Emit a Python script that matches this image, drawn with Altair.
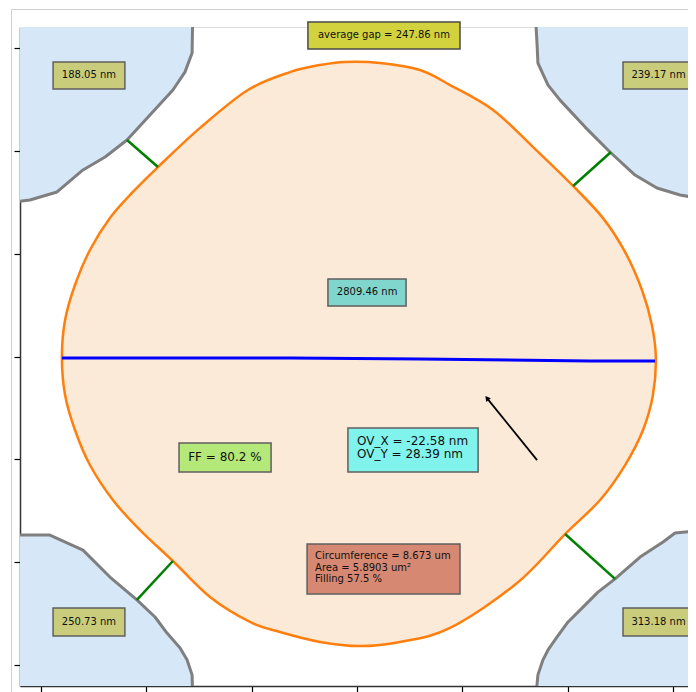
import altair as alt
import pandas as pd

# ---------------- data (nm) ----------------
TICKS = [-1500, -1000, -500, 0, 500, 1000, 1500]

# central hole outline
shape_x = [-57, 109, 299, 442, 646, 836, 1026, 1168, 1273, 1353, 1400, 1419, 1405, 1358, 1273, 1154, 988, 760, 442, 204,
           14, -176, -366, -508, -698, -874, -1030, -1159, -1268, -1339, -1386, -1401, -1386, -1339, -1268, -1173, -1064, -945, -745, -518,
           -318, -176]
shape_y = [1430, 1425, 1391, 1318, 1197, 1017, 828, 672, 507, 323, 153, -7, -187, -357, -527, -697, -862, -1100, -1318, -1386,
           -1406, -1386, -1338, -1289, -1168, -993, -843, -697, -527, -357, -187, -2, 177, 347, 517, 673, 799, 920, 1110, 1294,
           1381, 1415]

# neighbouring holes (corners)
ul_x = [-779, -783, -817, -874, -983, -1092, -1196, -1301, -1424, -1553, -1700, -1700]
ul_y = [1700, 1474, 1381, 1294, 1173, 1051, 969, 906, 799, 760, 740, 1700]
ur_x = [845, 855, 859, 907, 964, 1083, 1201, 1320, 1424, 1534, 1700, 1700]
ur_y = [1700, 1513, 1425, 1318, 1245, 1114, 993, 881, 818, 784, 755, 1700]
ll_x = [-1700, -1458, -1301, -1173, -1045, -959, -902, -840, -807, -783, -779, -1700]
ll_y = [-867, -867, -940, -1071, -1182, -1265, -1343, -1415, -1473, -1546, -1700, -1700]
lr_x = [1700, 1510, 1453, 1344, 1225, 1144, 1073, 1002, 950, 907, 883, 859, 845, 1700]
lr_y = [-838, -857, -901, -974, -1080, -1144, -1217, -1289, -1362, -1425, -1473, -1546, -1700, -1700]

# gap measurement segments
gap_x = [[-1092, -945], [1026, 1206], [-1045, -874], [988, 1225]]
gap_y = [[1051, 920], [828, 993], [-1182, -993], [-862, -1080]]

# diameter line
diam_x = [-1401, -318, 299, 1106, 1415]
diam_y = [-7, -7, -12, -22, -22]

# overlay arrow (tail, head)
arrow_x = [855, 617]
arrow_y = [-503, -202]

# annotation labels
gap_labels = ["188.05 nm", "239.17 nm", "250.73 nm", "313.18 nm"]
avg_label = "average gap = 247.86 nm"
diam_label = "2809.46 nm"
ff_label = "FF = 80.2 %"
ov_labels = ["OV_X = -22.58 nm", "OV_Y = 28.39 nm"]
circ_labels = ["Circumference = 8.673 um", "Area = 5.8903 um²", "Filling 57.5 %"]

# ---------------- helpers ----------------
XS = alt.Scale(domain=[-1600, 1600], nice=False, zero=False)
YS = alt.Scale(domain=[-1600, 1600], nice=False, zero=False)
AX = alt.Axis(values=TICKS, labels=False, title=None, grid=False, tickSize=6,
              tickColor="black", tickWidth=1.2, domainColor="#333333", domainWidth=1.5)
AY = alt.Axis(values=TICKS, labels=False, title=None, grid=False, tickSize=6,
              tickColor="black", tickWidth=1.2, domainColor="#333333", domainWidth=1.5)
FONT = "DejaVu Sans"


def X(f="x"):
    return alt.X(f"{f}:Q", scale=XS, axis=AX)


def Y(f="y"):
    return alt.Y(f"{f}:Q", scale=YS, axis=AY)


layers = []

# outer frame line (page decoration)
frame_df = pd.DataFrame({"a": [0]})
layers.append(alt.Chart(frame_df).mark_rect(fill=None, stroke="#cfcfcf", strokeWidth=1).encode(
    x=alt.value(-8.5), x2=alt.value(720), y=alt.value(-17.5), y2=alt.value(720)))

# blobs
rows = []
for name, xs, ys in [("ul", ul_x, ul_y), ("ur", ur_x, ur_y), ("ll", ll_x, ll_y), ("lr", lr_x, lr_y)]:
    for i, (a, b) in enumerate(zip(xs, ys)):
        rows.append({"blob": name, "i": i, "x": a, "y": b})
blob_df = pd.DataFrame(rows)
layers.append(alt.Chart(blob_df).mark_line(fill="#d6e8f8", stroke="#7f7f7f", strokeWidth=3, clip=True,
                                           strokeJoin="round").encode(
    x=X(), y=Y(), detail="blob:N", order="i:Q"))

# central shape
shape_df = pd.DataFrame({"x": shape_x, "y": shape_y, "i": list(range(len(shape_x)))})
layers.append(alt.Chart(shape_df).mark_line(fill="#fcead9", stroke="#ff7f0e", strokeWidth=2.5,
                                            interpolate="cardinal-closed").encode(
    x=X(), y=Y(), order="i:Q"))

# gap segments
grows = []
for k, (xs, ys) in enumerate(zip(gap_x, gap_y)):
    for i, (a, b) in enumerate(zip(xs, ys)):
        grows.append({"seg": k, "i": i, "x": a, "y": b})
layers.append(alt.Chart(pd.DataFrame(grows)).mark_line(stroke="#008000", strokeWidth=2.5).encode(
    x=X(), y=Y(), detail="seg:N", order="i:Q"))

# diameter line
diam_df = pd.DataFrame({"x": diam_x, "y": diam_y, "i": list(range(len(diam_x)))})
layers.append(alt.Chart(diam_df).mark_line(stroke="#0000ff", strokeWidth=3).encode(
    x=X(), y=Y(), order="i:Q"))

# arrow
arrow_df = pd.DataFrame({"x": arrow_x, "y": arrow_y, "i": [0, 1]})
layers.append(alt.Chart(arrow_df).mark_line(stroke="black", strokeWidth=1.8).encode(
    x=X(), y=Y(), order="i:Q"))
layers.append(alt.Chart(arrow_df.iloc[[1]]).mark_point(shape="triangle-up", filled=True, color="black",
                                                       size=35, angle=321, opacity=1).encode(
    x=X(), y=Y()))


# boxes
def box(x1, x2, y1, y2, fill, sw=1.5, stroke="#5f5f5f"):
    df = pd.DataFrame({"x1": [x1], "x2": [x2], "y1": [y1], "y2": [y2]})
    return alt.Chart(df).mark_rect(fill=fill, stroke=stroke, strokeWidth=sw).encode(
        x=X("x1"), x2="x2:Q", y=Y("y1"), y2="y2:Q")


def label(xs, ys, texts, size, align="center", color="#111111", baseline="middle", lh=None):
    df = pd.DataFrame({"x": xs, "y": ys, "t": texts})
    kw = dict(font=FONT, fontSize=size, align=align, baseline=baseline, color=color)
    if lh is not None:
        kw["lineHeight"] = lh
    return alt.Chart(df).mark_text(**kw).encode(x=X(), y=Y(), text="t")


gap_boxes = [(-1443, -1102, 1299, 1430), (1263, 1600, 1299, 1430),
             (-1443, -1102, -1357, -1221), (1263, 1600, -1357, -1221)]
for (x1, x2, y1, y2), t in zip(gap_boxes, gap_labels):
    layers.append(box(x1, x2, y1, y2, "#c9cd7b"))
    layers.append(label([(x1 + x2) / 2], [(y1 + y2) / 2], [t], 10))

layers.append(box(-233, 489, 1493, 1624, "#d2d23e", stroke="#4a4a4a"))
layers.append(label([128], [1559], [avg_label], 10))

layers.append(box(-138, 233, 245, 376, "#80d6cc"))
layers.append(label([48], [311], [diam_label], 10))

layers.append(box(-845, -408, -561, -420, "#b4e878"))
layers.append(label([-627], [-490], [ff_label], 12))

layers.append(box(-43, 575, -561, -347, "#80f4ec"))
layers.append(label([0], [-388], [ov_labels], 12, align="left", baseline="top", lh=13))

layers.append(box(-237, 489, -1153, -910, "#d68872"))
layers.append(label([-199], [-946], [circ_labels], 10, align="left", baseline="top", lh=11.5))

# SVG kept at 680 px wide so the page container does not shrink it
chart = alt.layer(*layers).properties(
    width=674, height=659,
    autosize=alt.AutoSizeParams(type="none"),
    padding={"left": 12, "top": 19, "right": -6, "bottom": 6},
).configure_view(stroke="#333333", strokeWidth=1.5).configure(background="white")

chart.save("out.html", embed_options={"renderer": "svg", "actions": False})
